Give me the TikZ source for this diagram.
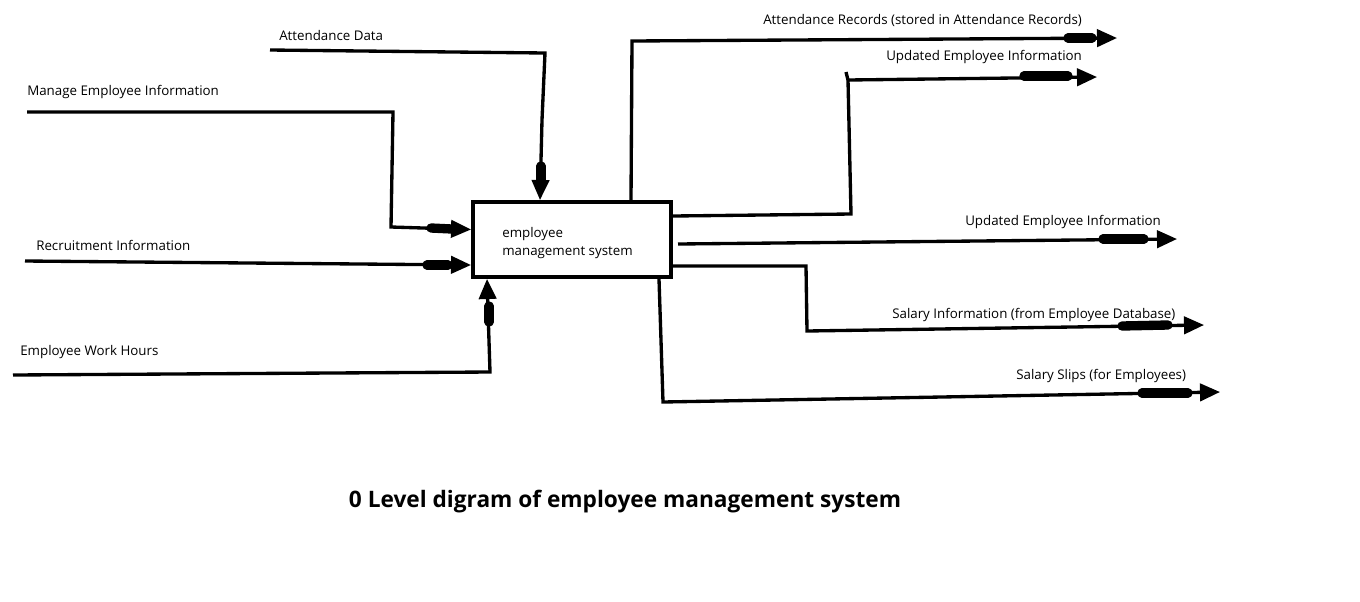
\documentclass[tikz,border=0pt]{standalone}
\usepackage{fontspec}
\setmainfont{Open Sans}
\usetikzlibrary{arrows.meta,calc}
\begin{document}
\begin{tikzpicture}[x=0.75pt,y=-0.75pt,
  wire/.style={line width=2.5pt, line join=miter},
  arr/.style={wire,-{Triangle[length=15pt,width=13pt]}},
  bar/.style={line width=7pt, line cap=round},
  lbl/.style={anchor=west, inner sep=0pt, font=\fontsize{10}{12}\selectfont},
  sysbox/.style={draw, line width=3pt, minimum width=148.5pt, minimum height=56.25pt, inner sep=0pt},
  systext/.style={anchor=west, inner sep=0pt, align=left, font=\fontsize{10}{13.5}\selectfont}]
\useasboundingbox[fill=white] (0,0) rectangle (1360,601);

\node[sysbox] (sys) at (572,239.5) {};
\node[systext] (sysT) at (502,243) {employee\\management system};

% inputs
\coordinate (adS) at (270,50);
\node[lbl] (adL) at (279,35) {Attendance Data};
\draw[arr] (adS) -- (545,53) -- (542,120) -- ($(sys.north west)+(69,0)$);
\draw[bar] (541,166) -- (541,184);

\coordinate (meS) at (27,112);
\node[lbl] (meL) at (27,92) {Manage Employee Information};
\draw[arr] (meS) -- (393,112) -- (391,227) -- ($(sys.west)+(0,-10)$);
\draw[bar] (431,228) -- (452,229);

\coordinate (riS) at (25,261);
\node[lbl] (riL) at (36,245) {Recruitment Information};
\draw[arr] (riS) -- ($(sys.west)+(0,25.5)$);
\draw[bar] (427,265) -- (448,265);

\coordinate (whS) at (13,375);
\node[lbl] (whL) at (20,352) {Employee Work Hours};
\draw[arr] (whS) -- (490,372) -- ($(sys.south west)+(16,0)$);
\draw[bar] (489,322) -- (489,306);

% outputs
\coordinate (arE) at (1117,38);
\node[lbl] (arL) at (763,20) {Attendance Records (stored in Attendance Records)};
\draw[arr] ($(sys.north west)+(160,0)$) -- (632,41) -- (arE);
\draw[bar] (1068,38) -- (1092,38);

\coordinate (ue1E) at (1097,77);
\node[lbl] (ue1L) at (886,57) {Updated Employee Information};
\draw[arr] ($(sys.east)+(0,-23.5)$) -- (851,214) -- (848,80) -- (ue1E);
\draw[wire] (846,72) -- (848,80);
\draw[bar] (1024,76) -- (1068,76);

\coordinate (ue2E) at (1177,239);
\node[lbl] (ue2L) at (965,222) {Updated Employee Information};
\draw[arr] ($(sys.east)+(5,4.5)$) -- (ue2E);
\draw[bar] (1103,239) -- (1144,239);

\coordinate (siE) at (1204,325);
\node[lbl] (siL) at (892,315) {Salary Information (from Employee Database)};
\draw[arr] ($(sys.east)+(0,26.5)$) -- (806,266) -- (807,331) -- (siE);
\draw[bar] (1122,326) -- (1168,325);

\coordinate (ssE) at (1220,392);
\node[lbl] (ssL) at (1016,376) {Salary Slips (for Employees)};
\draw[arr] ($(sys.south west)+(188,0)$) -- (663,402) -- (ssE);
\draw[bar] (1142,393) -- (1188,393);

\node[font=\fontsize{17}{20}\bfseries\selectfont, inner sep=0pt] (title) at (625,502) {0 Level digram of employee management system};
\end{tikzpicture}
\end{document}
